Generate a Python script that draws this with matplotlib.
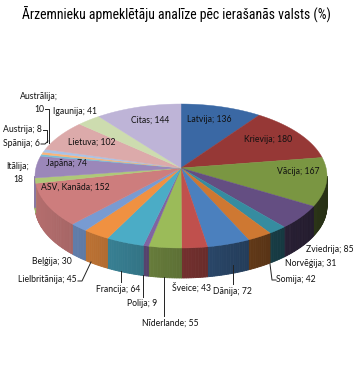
import numpy as np
import matplotlib.pyplot as plt
from matplotlib import font_manager
from matplotlib.patches import Polygon
from matplotlib.colors import to_rgb

# dati
countries = ['Latvija', 'Krievija', 'Vācija', 'Zviedrija', 'Norvēģija', 'Somija',
             'Dānija', 'Šveice', 'Nīderlande', 'Polija', 'Francija', 'Lielbritānija',
             'Beļģija', 'ASV, Kanāda', 'Itālija', 'Japāna', 'Spānija', 'Austrija',
             'Austrālija', 'Lietuva', 'Igaunija', 'Citas']
visitors = [136, 180, 167, 85, 31, 42, 72, 43, 55, 9, 64, 45,
            30, 152, 18, 74, 6, 8, 10, 102, 41, 144]
colors = ['#3a68a4', '#963836', '#7a9642', '#644e82', '#368ca0', '#ce7832',
          '#4b80be', '#c0504d', '#9bbb59', '#8064a2', '#4bacc6', '#f09141',
          '#789bd2', '#cd7d7d', '#afc878', '#9b87b9', '#78bed7', '#fab478',
          '#aac3e6', '#dcaaaa', '#cddcaf', '#beb4d7']
title = 'Ārzemnieku apmeklētāju analīze pēc ierašanās valsts (%)'

# izkārtojums (pikseļi)
cx, cy, a, b, depth = 181, 176, 146, 72, 30
apex = (181, 168)
label_pos = {
    'Latvija': (209, 119, 'center'), 'Krievija': (268, 140, 'center'),
    'Vācija': (298, 172, 'center'), 'Zviedrija': (330, 249, 'center'),
    'Norvēģija': (311, 264, 'center'), 'Somija': (296, 279, 'center'),
    'Dānija': (232, 291, 'center'), 'Šveice': (191, 288, 'center'),
    'Nīderlande': (170, 323, 'center'), 'Polija': (142, 304, 'center'),
    'Francija': (118, 289, 'center'), 'Lielbritānija': (77, 280, 'right'),
    'Beļģija': (52, 262, 'center'), 'ASV, Kanāda': (75, 187, 'center'),
    'Itālija': (18, 173, 'center'), 'Japāna': (66, 163, 'center'),
    'Spānija': (40, 144, 'right'), 'Austrija': (42, 130, 'right'),
    'Austrālija': (39, 103, 'center'), 'Lietuva': (92, 142, 'center'),
    'Igaunija': (75, 112, 'center'), 'Citas': (150, 120, 'center'),
}
leaders = {
    'Somija': [(276, 280), (272, 280), (270, 264)],
    'Dānija': [(233, 284), (233, 265)],
    'Nīderlande': [(164, 316), (164, 277)],
    'Polija': [(143, 297), (143, 275)],
    'Francija': [(121, 282), (121, 271)],
    'Lielbritānija': [(78, 281), (82, 281), (91, 262)],
    'Spānija': [(41, 144), (45, 144), (48, 141)],
    'Austrija': [(43, 130), (47, 130), (47, 142)],
    'Austrālija': [(45, 109), (49, 109), (49, 143)],
}
two_line = {'Itālija', 'Austrālija'}

title_font = 'DejaVu Sans'
for fam in ['Liberation Sans Narrow', 'DejaVu Sans Condensed', 'Roboto Condensed',
            'Open Sans Condensed', 'Liberation Sans']:
    try:
        font_manager.findfont(font_manager.FontProperties(family=fam),
                              fallback_to_default=False)
        title_font = fam
        break
    except Exception:
        pass

fig = plt.figure(figsize=(3.63, 3.73), dpi=100)
ax = fig.add_axes([0, 0, 1, 1])
ax.set_xlim(0, 363)
ax.set_ylim(373, 0)
ax.axis('off')

def edge(t):
    return cx + a * np.sin(t), cy - b * np.cos(t)

vals = np.array(visitors, dtype=float)
ends = np.cumsum(vals) / vals.sum() * 2 * np.pi
starts = np.concatenate([[0], ends[:-1]])

# sāni
for s, e, col in zip(starts, ends, colors):
    lo, hi = max(s, np.pi / 2), min(e, 3 * np.pi / 2)
    if hi <= lo:
        continue
    ts = np.linspace(lo, hi, max(2, int(np.degrees(hi - lo)) + 2))
    base = np.array(to_rgb(col))
    for t0, t1 in zip(ts[:-1], ts[1:]):
        x0, y0 = edge(t0)
        x1, y1 = edge(t1)
        f = 0.6 - 0.28 * np.sin((t0 + t1) / 2)
        c = np.clip(base * f, 0, 1)
        ax.add_patch(Polygon([(x0, y0), (x1, y1), (x1, y1 + depth), (x0, y0 + depth)],
                             closed=True, facecolor=c, edgecolor=c, lw=0.6))

# virsma
for s, e, col in zip(starts, ends, colors):
    ts = np.linspace(s, e, max(3, int(np.degrees(e - s)) * 2 + 3))
    pts = [apex] + [edge(t) for t in ts]
    ax.add_patch(Polygon(pts, closed=True, facecolor=col, edgecolor=col, lw=0.3))

# etiķetes
for name, v in zip(countries, visitors):
    x, y, ha = label_pos[name]
    txt = f'{name};\n{v}' if name in two_line else f'{name}; {v}'
    ax.text(x, y, txt, ha=ha, va='center', fontsize=6.2, family='Lato',
            color='#111111', linespacing=1.5)
    if name in leaders:
        xs, ys = zip(*leaders[name])
        ax.plot(xs, ys, color='#222222', lw=0.7)

t = ax.text(176, 15, title, ha='center', va='center', fontsize=11,
            family=title_font, color='black')
fig.canvas.draw()
w = t.get_window_extent().width
if w > 310:
    t.set_fontsize(11 * 310 / w)

fig.savefig('out.png', dpi=100)
